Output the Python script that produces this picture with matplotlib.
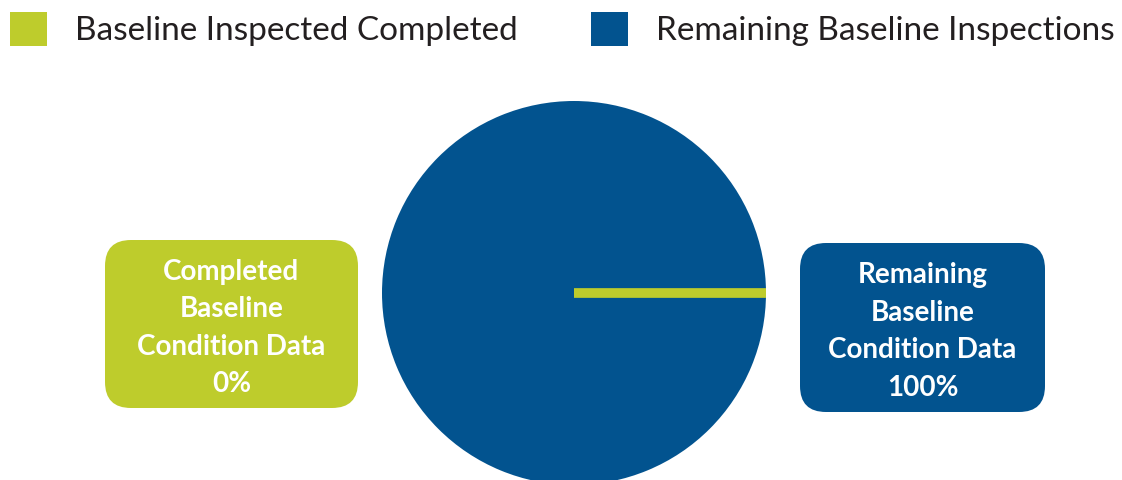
import numpy as np
import matplotlib.pyplot as plt
from matplotlib.patches import FancyBboxPatch, Patch

labels = ["Baseline Inspected Completed", "Remaining Baseline Inspections"]
values = [0, 100]
box_titles = ["Completed\nBaseline\nCondition Data", "Remaining\nBaseline\nCondition Data"]
colors = ["#BECC2C", "#02538F"]

fig = plt.figure(figsize=(11.22, 4.8), dpi=100)
ax = fig.add_axes([0, 0, 1, 1])

# pie in pixel coords (y down)
wedges, _ = ax.pie(values, colors=colors, center=(574, 293), radius=192,
                   startangle=0, counterclock=False)
# zero slice shows up only as its edge line
wedges[0].set_edgecolor(colors[0])
wedges[0].set_linewidth(7)
wedges[0].set_zorder(5)

ax.set_xlim(0, 1122)
ax.set_ylim(480, 0)
ax.set_aspect("equal")
ax.axis("off")

# label boxes
boxes = [(105, 240, 253, 168), (800, 243, 245, 169)]
for (x, y, w, h), title, v, c in zip(boxes, box_titles, values, colors):
    ax.add_patch(FancyBboxPatch((x, y), w, h, boxstyle="round,pad=0,rounding_size=26",
                                facecolor=c, edgecolor="none", zorder=6))
    ax.text(x + w / 2, y + h / 2 + 4, f"{title}\n{v}%", ha="center", va="center",
            color="white", fontsize=20, fontweight="bold", family="Lato",
            linespacing=1.55, zorder=7)

handles = [Patch(facecolor=c, edgecolor="none") for c in colors]
ax.legend(handles, labels, ncol=2, loc="upper left", bbox_to_anchor=(0.009, 0.975),
          frameon=False, prop={"family": "Lato", "size": 24},
          handlelength=1.1, handleheight=1.2, handletextpad=0.85,
          columnspacing=2.2, borderpad=0, borderaxespad=0, labelcolor="#231F20")

fig.savefig("out.png", dpi=100)
